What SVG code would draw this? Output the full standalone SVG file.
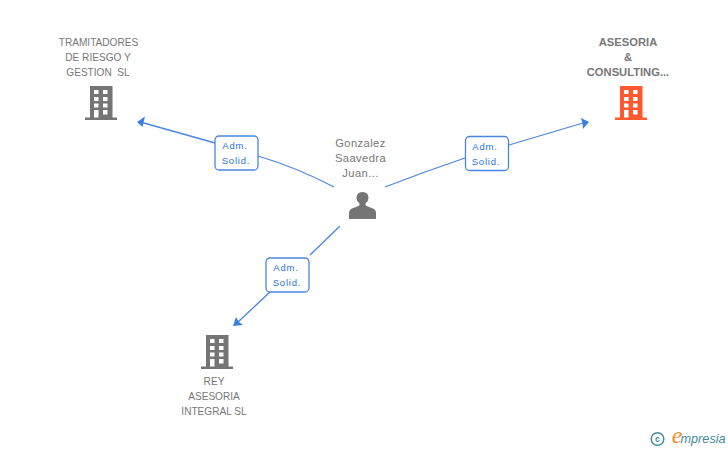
<svg xmlns="http://www.w3.org/2000/svg" width="728" height="450" viewBox="0 0 728 450">
<style>
text{font-family:"Liberation Sans",Arial,sans-serif;text-anchor:middle;white-space:pre}
.n{font-size:10.100px;fill:#777}
.b{font-size:11.200px;font-weight:bold;fill:#777}
.p{font-size:11.200px;fill:#777;letter-spacing:.4px}
.l{font-size:9.500px;fill:#2a72d8;letter-spacing:.8px}
.c{fill:none;stroke:#4a86e0;stroke-width:1.300}
.box{fill:#fff;stroke:#4a86e0;stroke-width:1.300}
.ah{fill:#3b7fe0}
.w{fill:#fff}
</style>
<defs>
<g id="bld">
<path d="M5 0H27.500V31.500H32V34H0V31.500H5Z"/>
<path class="w" d="M9 4h4.500v4H9zM18 4h4.500v4H18zM9 11h4.500v4H9zM18 11h4.500v4H18zM9 17.500h4.500v4H9zM18 17.500h4.500v4H18zM9 24h4.500v7.500H9zM18 24h4.500v4.500H18z"/>
</g>
</defs>
<rect width="728" height="450" fill="#fff"/>
<g id="connectors">
<path class="c" d="M334 187Q298 168 258 156"/>
<path class="c" d="M215 143L142 122.500"/>
<path class="ah" d="M137 122L145 116.500L143.500 122.500L142.500 127Z"/>
<path class="c" d="M385 187Q425 171.500 465 158"/>
<path class="c" d="M509 145L583 123"/>
<path class="ah" d="M589 122L581 118L582.500 123.500L583 129Z"/>
<path class="c" d="M340 226L310 255"/>
<path class="c" d="M270 292L238 322"/>
<path class="ah" d="M233 326L236 317L239 322L243 325Z"/>
<g>
<rect class="box" x="215" y="136" width="43" height="34" rx="4"/>
<text class="l" x="235" y="149">Adm.</text>
<text class="l" x="236" y="164">Solid.</text>
</g>
<g>
<rect class="box" x="465.500" y="136.500" width="43" height="34" rx="4"/>
<text class="l" x="485" y="150">Adm.</text>
<text class="l" x="486" y="165">Solid.</text>
</g>
<g>
<rect class="box" x="266" y="258" width="43" height="34" rx="4"/>
<text class="l" x="286" y="271">Adm.</text>
<text class="l" x="287" y="286">Solid.</text>
</g>
</g>
<g id="node-tramitadores">
<text class="n" x="98.500" y="46">TRAMITADORES</text>
<text class="n" x="98" y="61">DE RIESGO Y</text>
<text class="n" x="98" y="76">GESTION  SL</text>
<use href="#bld" x="85" y="86" fill="#757575"/>
</g>
<g id="node-asesoria">
<text class="b" x="628" y="46">ASESORIA</text>
<text class="b" x="628" y="61">&amp;</text>
<text class="b" x="628" y="76">CONSULTING...</text>
<use href="#bld" x="615" y="86" fill="#ff5a2e"/>
</g>
<g id="node-rey">
<use href="#bld" x="201" y="335" fill="#757575"/>
<text class="n" x="214" y="385">REY</text>
<text class="n" x="214" y="400">ASESORIA</text>
<text class="n" x="214" y="415">INTEGRAL SL</text>
</g>
<g id="node-gonzalez">
<text class="p" x="360.500" y="147">Gonzalez</text>
<text class="p" x="360.500" y="162">Saavedra</text>
<text class="p" x="360.500" y="177">Juan...</text>
<path fill="#757575" d="M349 219V213Q349 210 352 208.500L358.500 206Q360 205 359.500 203.500Q356.500 201 356.500 198Q356.500 192 362.500 192Q368.500 192 368.500 198Q368.500 201 365.500 203.500Q365 205 366.500 206L373 208.500Q376 210 376 213V219Z"/>
</g>
<g id="brand">
<circle cx="657.500" cy="439" r="6.300" fill="none" stroke="#4a8a9e" stroke-width="1.500"/>
<text x="657.500" y="442" style="font-size:9px;fill:#4a8a9e;font-weight:bold">c</text>
<text x="677" y="443" style="font-size:24px;fill:#f28c1e;font-style:italic;font-family:'Liberation Serif',serif">e</text>
<text x="680.500" y="443" style="font-size:12.700px;fill:#3f8a9c;font-style:italic;text-anchor:start">mpresia</text>
</g>
</svg>
